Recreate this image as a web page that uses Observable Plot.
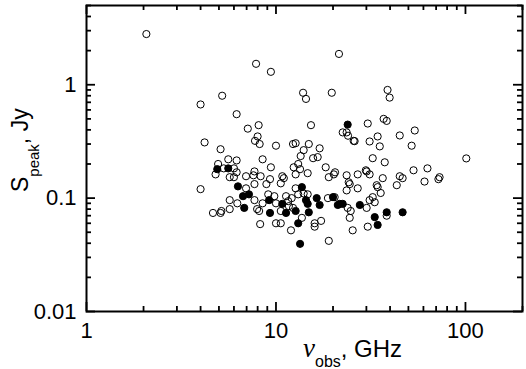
<!DOCTYPE html>
<html><head><meta charset="utf-8">
<script src="https://cdn.jsdelivr.net/npm/d3@7"></script>
<script src="https://cdn.jsdelivr.net/npm/@observablehq/plot@0.6"></script>
<style>
body{margin:0;background:#fff}
#chart{position:absolute;left:0;top:0}
</style>
</head><body><div id="chart"></div>
<script>
// Open circles: observed frequency (GHz) and peak flux density (Jy)
const openFreq = [2.07,7.85,9.4,21.5,5.2,4.0,6.2,13.9,14.4,19.7,38.8,39.8,7.1,8.1,8.0,7.75,8.2,4.2,5.1,5.6,6.2,8.5,10,12.3,12.7,14.9,14.0,13.5,15.3,22.5,23.6,24,25.7,26,30.5,37,38.4,34.4,31.2,35.3,45,54,52,17,16.6,15.7,32.4,37.5,101,4.95,4.8,5.7,4.0,5.7,4.65,5.1,5.7,9.4,12.4,13.1,13.4,12.7,14.7,18.3,20.5,20.2,19,23.6,27,30.1,24.2,24.5,27,23.6,6.2,6.0,6.95,7.6,7.7,8.3,9.3,8.9,10.8,11,10.6,6.95,7.7,7.7,6.25,5.15,7.95,8.15,8.25,9.1,9.8,10,10.6,10,10.6,11.3,12.1,12,12.7,13.7,16,17.3,16,19,18.8,20.4,23.9,24.8,24.5,25.4,30.1,30.5,29.8,31.2,36.6,34,34.4,35.7,32.4,31.2,33.2,38.4,43.4,45,46.6,53.2,63,60.8,73,72,5.3,6.0,13.1,14,14.7,11.6,11.7,12.3,8.5];
const openFlux = [2.8,1.53,1.30,1.87,0.80,0.67,0.55,0.85,0.75,0.85,0.90,0.77,0.41,0.44,0.35,0.32,0.30,0.31,0.27,0.22,0.215,0.22,0.29,0.30,0.305,0.30,0.265,0.235,0.44,0.38,0.38,0.355,0.32,0.318,0.455,0.50,0.48,0.35,0.316,0.286,0.357,0.395,0.29,0.275,0.23,0.225,0.225,0.207,0.224,0.20,0.162,0.153,0.12,0.096,0.074,0.074,0.080,0.187,0.187,0.20,0.18,0.162,0.166,0.187,0.169,0.162,0.153,0.159,0.162,0.172,0.138,0.133,0.122,0.117,0.169,0.153,0.156,0.159,0.172,0.156,0.147,0.133,0.156,0.15,0.135,0.122,0.133,0.096,0.090,0.077,0.080,0.077,0.059,0.108,0.104,0.090,0.077,0.060,0.060,0.104,0.10,0.052,0.122,0.067,0.060,0.063,0.056,0.042,0.10,0.102,0.082,0.077,0.067,0.052,0.082,0.056,0.176,0.162,0.15,0.13,0.125,0.111,0.102,0.096,0.092,0.07,0.13,0.156,0.15,0.176,0.183,0.14,0.153,0.147,0.183,0.183,0.108,0.11,0.108,0.094,0.085,0.082,0.090];
// Filled circles
const filledFreq = [4.9,5.6,6.3,6.7,7.2,6.8,9.2,9.3,10.8,11.3,12.7,13.1,13.4,13.7,14.4,14.7,14.9,16.4,17,20,21.2,21.7,22.5,23.9,27.7,33.2,34.4,38.4,46.6];
const filledFlux = [0.18,0.183,0.127,0.104,0.108,0.082,0.096,0.074,0.089,0.074,0.077,0.060,0.0395,0.125,0.096,0.089,0.075,0.10,0.087,0.102,0.087,0.089,0.089,0.445,0.087,0.068,0.058,0.075,0.075];
const xTickLabels = [1, 10, 100];
const yTickLabels = [0.01, 0.1, 1];
const xDomain = [1, 200];
const yDomain = [0.01, 5];

const openPts = openFreq.map((f, i) => ({f, s: openFlux[i]}));
const filledPts = filledFreq.map((f, i) => ({f, s: filledFlux[i]}));
const isDecade = v => Math.abs(Math.log10(v) - Math.round(Math.log10(v))) < 1e-6;
const xMinor = d3.scaleLog().domain(xDomain).ticks().filter(v => !isDecade(v));
const yMinor = d3.scaleLog().domain(yDomain).ticks().filter(v => !isDecade(v));

const W = 526, H = 369, ML = 86, MR = 4, MT = 5, MB = 58;
const PW = W - ML - MR, PH = H - MT - MB;
const font = "'Liberation Sans', Arial, sans-serif";
const MAJ = 9, MIN = 5, TW = 1.8;

const chart = Plot.plot({
  width: W,
  height: H,
  marginLeft: ML,
  marginRight: MR,
  marginTop: MT,
  marginBottom: MB,
  style: {fontFamily: font, background: "white", color: "black"},
  x: {type: "log", domain: xDomain},
  y: {type: "log", domain: yDomain},
  marks: [
    Plot.dot(openPts, {x: "f", y: "s", r: 3.6, stroke: "black", strokeWidth: 1, fill: "none"}),
    Plot.dot(filledPts, {x: "f", y: "s", r: 3.6, stroke: "black", strokeWidth: 1, fill: "black"}),
    // tick labels
    Plot.axisX(xTickLabels, {anchor: "bottom", tickSize: 0, tickPadding: 11, fontSize: 22, label: null, tickFormat: d => String(d)}),
    Plot.axisY(yTickLabels, {anchor: "left", tickSize: 0, tickPadding: 10, fontSize: 22, label: null, tickFormat: d => String(d)}),
    // inward tick marks on all four sides
    Plot.ruleX(xTickLabels, {x: d => d, insetTop: PH - MAJ, stroke: "black", strokeWidth: TW}),
    Plot.ruleX(xMinor, {x: d => d, insetTop: PH - MIN, stroke: "black", strokeWidth: TW}),
    Plot.ruleX(xTickLabels, {x: d => d, insetBottom: PH - MAJ, stroke: "black", strokeWidth: TW}),
    Plot.ruleX(xMinor, {x: d => d, insetBottom: PH - MIN, stroke: "black", strokeWidth: TW}),
    Plot.ruleY(yTickLabels, {y: d => d, insetRight: PW - MAJ, stroke: "black", strokeWidth: TW}),
    Plot.ruleY(yMinor, {y: d => d, insetRight: PW - MIN, stroke: "black", strokeWidth: TW}),
    Plot.ruleY(yTickLabels, {y: d => d, insetLeft: PW - MAJ, stroke: "black", strokeWidth: TW}),
    Plot.ruleY(yMinor, {y: d => d, insetLeft: PW - MIN, stroke: "black", strokeWidth: TW}),
    Plot.frame({stroke: "black", strokeWidth: 2})
  ]
});

const svg = d3.select(chart);
// x-axis title: ν_obs, GHz
const xl = svg.append("text")
  .attr("x", 303).attr("y", 357).attr("text-anchor", "start")
  .attr("font-family", font).attr("font-size", 24).attr("fill", "black");
xl.append("tspan").attr("font-family", "'Liberation Serif', 'DejaVu Serif', serif").attr("font-style", "italic").attr("font-size", 27).text("ν");
xl.append("tspan").attr("font-size", 16).attr("dy", 10).text("obs");
xl.append("tspan").attr("dy", -10).text(", GHz");
// y-axis title: S_peak, Jy
const yl = svg.append("text")
  .attr("transform", "translate(28,192) rotate(-90)").attr("text-anchor", "start")
  .attr("font-family", font).attr("font-size", 23).attr("fill", "black");
yl.append("tspan").text("S");
yl.append("tspan").attr("font-size", 15).attr("dy", 11).text("peak");
yl.append("tspan").attr("dy", -11).text(", Jy");

document.getElementById("chart").append(chart);
</script>
</body></html>
